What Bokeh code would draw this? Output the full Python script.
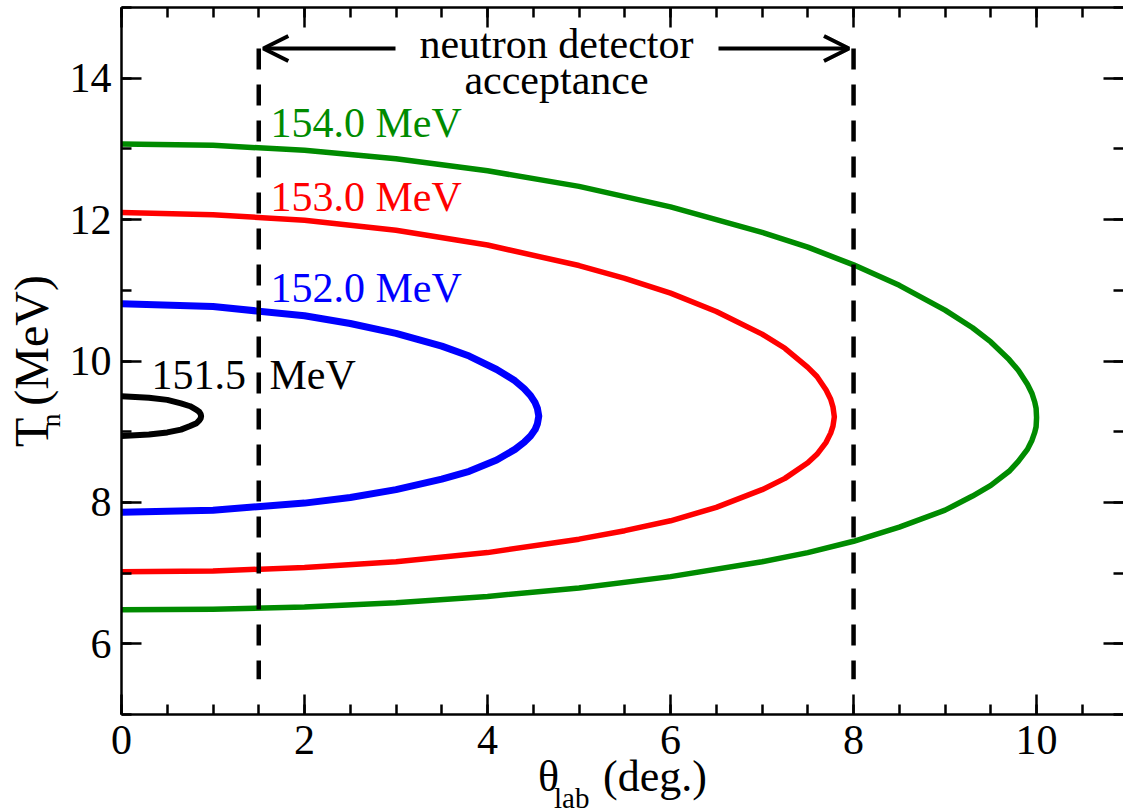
from bokeh.plotting import figure
from bokeh.models import (Range1d, LinearAxis, SingleIntervalTicker, FixedTicker, Label, Arrow,
                          OpenHead)
from bokeh.embed import file_html
from bokeh.resources import INLINE

# ---------------- data ----------------
theta_154 = [0.00, 1.00, 2.00, 3.00, 4.00, 5.00, 6.00, 7.00, 7.50, 8.00, 8.50, 9.00, 9.30, 9.50,
             9.70, 9.80, 9.90, 9.95, 9.98, 9.995, 10.00, 9.995, 9.98, 9.95, 9.90, 9.80, 9.70,
             9.50, 9.30, 9.00, 8.50, 8.00, 7.50, 7.00, 6.00, 5.00, 4.00, 3.00, 2.00, 1.00, 0.00]
T_154 = [13.07, 13.05, 12.98, 12.86, 12.69, 12.47, 12.18, 11.82, 11.61, 11.36, 11.07, 10.72, 10.47,
         10.27, 10.02, 9.87, 9.67, 9.54, 9.42, 9.33, 9.20, 9.07, 8.99, 8.88, 8.75, 8.58, 8.44,
         8.24, 8.09, 7.89, 7.65, 7.45, 7.29, 7.16, 6.95, 6.79, 6.67, 6.58, 6.52, 6.49, 6.48]

theta_153 = [0.00, 1.00, 2.00, 3.00, 4.00, 5.00, 5.50, 6.00, 6.50, 7.00, 7.25, 7.50, 7.60, 7.70,
             7.75, 7.775, 7.79, 7.775, 7.75, 7.70, 7.60, 7.50, 7.25, 7.00, 6.50, 6.00, 5.50, 5.00,
             4.00, 3.00, 2.00, 1.00, 0.00]
T_153 = [12.10, 12.07, 11.99, 11.85, 11.64, 11.35, 11.17, 10.96, 10.70, 10.38, 10.18, 9.91, 9.78,
         9.59, 9.46, 9.35, 9.21, 9.08, 8.98, 8.85, 8.68, 8.56, 8.34, 8.18, 7.93, 7.74, 7.60, 7.48,
         7.29, 7.16, 7.08, 7.03, 7.02]

theta_152 = [0.00, 1.00, 2.00, 2.50, 3.00, 3.50, 3.80, 4.10, 4.30, 4.40, 4.47, 4.52, 4.545, 4.56,
             4.545, 4.52, 4.47, 4.40, 4.30, 4.10, 3.80, 3.50, 3.00, 2.50, 2.00, 1.00, 0.00]
T_152 = [10.81, 10.77, 10.64, 10.53, 10.39, 10.21, 10.07, 9.88, 9.72, 9.61, 9.51, 9.41, 9.33, 9.22,
         9.11, 9.03, 8.94, 8.85, 8.75, 8.60, 8.44, 8.33, 8.18, 8.07, 7.99, 7.89, 7.86]

theta_1515 = [0.00, 0.30, 0.50, 0.65, 0.75, 0.82, 0.85, 0.865, 0.87, 0.865, 0.85, 0.82, 0.75,
              0.65, 0.50, 0.30, 0.00]
T_1515 = [9.50, 9.48, 9.45, 9.40, 9.36, 9.31, 9.28, 9.25, 9.22, 9.19, 9.16, 9.12, 9.08, 9.03,
          8.99, 8.96, 8.94]

curve_labels = ["154.0 MeV", "153.0 MeV", "152.0 MeV"]
black_label = ["151.5", "MeV"]
acceptance_theta = [1.5, 8.0]
acceptance_T = [5.5, 14.42]
acceptance_text = ["neutron detector", "acceptance"]
x_title = ["\u03b8", "lab", "(deg.)"]
y_title = ["T", "n", "(MeV)"]

# ---------------- layout ----------------
FL, FT, FW, FH = 121, 7, 1002, 707
XMAX = 10.95
YMIN, YMAX = 5.0, 15.0
SX = FW / XMAX
SY = FH / (YMAX - YMIN)
TXT_SHIFT = 14  # label anchor correction (px)
NB = "\u00a0"


def dx(px):
    return (px - FL) / SX


def dy(py):
    return YMIN + (FT + FH - py) / SY


FONT = "Liberation Serif"
GREEN = "#008b00"

p = figure(frame_width=FW, frame_height=FH, x_range=Range1d(0, XMAX), y_range=Range1d(YMIN, YMAX),
           output_backend="svg", toolbar_location=None,
           min_border_left=FL, min_border_top=FT, min_border_bottom=98, min_border_right=0)
p.background_fill_color = "white"
p.border_fill_color = "white"
p.outline_line_color = None
p.xgrid.visible = False
p.ygrid.visible = False


def style_axis(ax, labels=True, line=True, ticks=True):
    ax.major_tick_in = 20 if ticks else 0
    ax.major_tick_out = 0
    ax.minor_tick_in = 10 if ticks else 0
    ax.minor_tick_out = 0
    ax.major_tick_line_width = 2.5
    ax.minor_tick_line_width = 2.5
    ax.major_tick_line_color = "black" if ticks else None
    ax.minor_tick_line_color = "black" if ticks else None
    ax.axis_line_width = 2.5
    ax.axis_line_color = "black" if line else None
    ax.axis_label_text_font = FONT
    ax.axis_label_text_font_style = "normal"
    ax.axis_label_text_color = "black"
    if labels:
        ax.major_label_text_font = FONT
        ax.major_label_text_font_size = "42px"
        ax.major_label_text_color = "black"
    else:
        ax.major_label_text_font_size = "0px"
        ax.major_label_text_color = None
        ax.major_label_standoff = 0


# bottom axis with title "θ ... (deg.)"
xb = p.xaxis[0]
xb.ticker = SingleIntervalTicker(interval=2, num_minor_ticks=4)
style_axis(xb)
xb.major_label_standoff = 11
xb.axis_label = NB + x_title[0] + NB * 4 + x_title[2] + NB
xb.axis_label_text_font_size = "44px"
xb.axis_label_standoff = -5

# left axis: ticks, tick labels and the subscript "n" of the title
yl = p.yaxis[0]
yl.ticker = SingleIntervalTicker(interval=2, num_minor_ticks=2)
style_axis(yl)
yl.major_label_standoff = 10
yl.axis_label = y_title[1] + NB * 17
yl.axis_label_text_font_size = "28px"
yl.axis_label_standoff = 1

# top and right axes: inward ticks only
xt = LinearAxis(ticker=SingleIntervalTicker(interval=2, num_minor_ticks=4))
style_axis(xt, labels=False)
p.add_layout(xt, "above")

yr = LinearAxis(ticker=SingleIntervalTicker(interval=2, num_minor_ticks=2))
style_axis(yr, labels=False, line=False)
p.add_layout(yr, "right")

# subscript "lab" carried by an extra, tick-less bottom axis
xsub = LinearAxis(ticker=FixedTicker(ticks=[]))
style_axis(xsub, labels=False, line=False, ticks=False)
xsub.axis_label = x_title[1] + NB * 14
xsub.axis_label_text_font_size = "29px"
xsub.axis_label_standoff = -22
p.add_layout(xsub, "below")

# main part "T (MeV)" of the y title on an extra, tick-less left axis
ymain = LinearAxis(ticker=FixedTicker(ticks=[]))
style_axis(ymain, labels=False, line=False, ticks=False)
ymain.axis_label = y_title[0] + NB + y_title[2]
ymain.axis_label_text_font_size = "48px"
ymain.axis_label_standoff = -26
p.add_layout(ymain, "left")

# curves
p.line(theta_154, T_154, line_color=GREEN, line_width=5.5, line_join="round")
p.line(theta_153, T_153, line_color="red", line_width=5.5, line_join="round")
p.line(theta_152, T_152, line_color="blue", line_width=7, line_join="round")
p.line(theta_1515, T_1515, line_color="black", line_width=6, line_join="round")

# acceptance dashed lines
for a in acceptance_theta:
    p.line([a, a], [acceptance_T[1], acceptance_T[0]], line_color="black", line_width=4.5,
           line_dash="21 15")

# arrows
ya = acceptance_T[1]
p.add_layout(Arrow(end=OpenHead(size=25, line_width=4, line_color="black"),
                   x_start=dx(395), y_start=ya, x_end=acceptance_theta[0] + 0.05, y_end=ya,
                   line_width=4, line_color="black"))
p.add_layout(Arrow(end=OpenHead(size=25, line_width=4, line_color="black"),
                   x_start=dx(718), y_start=ya, x_end=acceptance_theta[1] - 0.05, y_end=ya,
                   line_width=4, line_color="black"))


def lab(text, px, py, size=42, color="black", align="left"):
    p.add_layout(Label(x=dx(px), y=dy(py - TXT_SHIFT), text=text, text_font=FONT,
                       text_font_size=f"{size}px", text_color=color, text_align=align,
                       text_baseline="alphabetic"))


lab(acceptance_text[0], 556, 57, align="center")
lab(acceptance_text[1], 556, 93, align="center")

lab(curve_labels[0], 270, 136, color=GREEN)
lab(curve_labels[1], 270, 210, color="red")
lab(curve_labels[2], 270, 301, color="blue")
lab(black_label[0], 151, 388)
lab(black_label[1], 269, 388)

open("out.html", "w").write(file_html(p, INLINE))
